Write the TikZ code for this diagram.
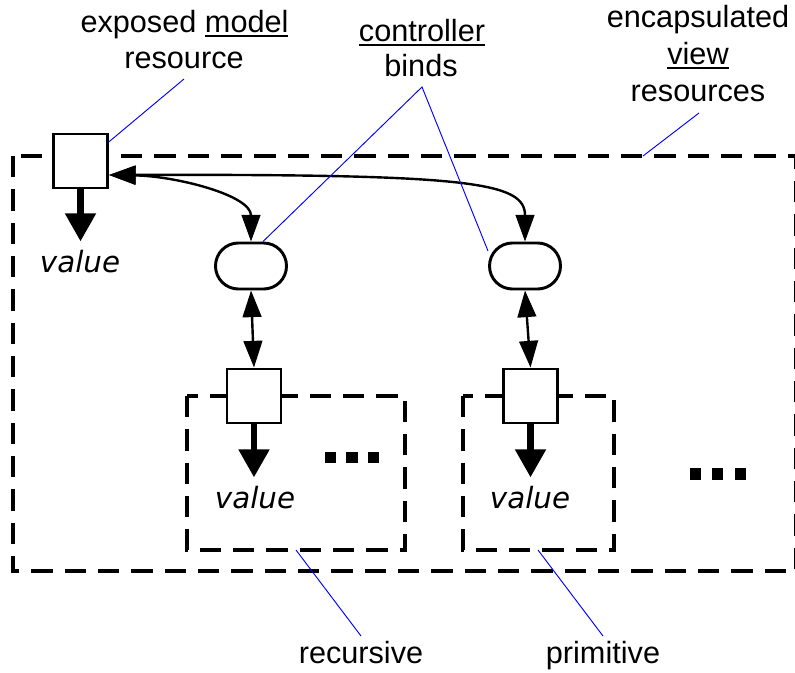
\documentclass[tikz,border=0pt]{standalone}
\usepackage{fontspec}
\setmainfont{Liberation Sans}
\newfontfamily\valfont{DejaVu Sans}
\usetikzlibrary{arrows.meta}
% underlined word with a rule a little below the baseline
\newcommand\ulword[1]{\setbox0\hbox{#1}\rlap{\rule[-2.8pt]{\wd0}{1.4pt}}\box0}
\begin{document}
\begin{tikzpicture}[x=0.75pt,y=-0.75pt,
  box/.style={draw, line width=2.2pt, fill=white, minimum size=40.5pt, inner sep=0pt},
  bind/.style={draw, line width=2.2pt, fill=white, rounded corners=17.2pt,
    minimum width=53.25pt, minimum height=34.5pt, inner sep=0pt},
  link/.style={line width=1.8pt,
    {Triangle[length=20pt,width=14pt]}-{Triangle[length=20pt,width=14pt]}},
  flow/.style={line width=5pt, -{Triangle[length=21pt,width=22pt]}},
  frame/.style={line width=2.4pt, dash pattern=on 16pt off 9pt},
  lead/.style={blue, line width=0.7pt},
  lbl/.style={font=\fontsize{23}{28}\selectfont, anchor=base, inner sep=0pt},
  val/.style={font=\valfont\itshape\fontsize{22}{26}\selectfont, anchor=base, inner sep=0pt},
  dot/.style={fill, minimum size=8.4pt, inner sep=0pt}
]
\useasboundingbox (0,0) rectangle (795,673);

% dashed containers
\draw[frame] (13,156) rectangle (796,571);
\draw[frame] (187,396) rectangle (405,550);
\draw[frame] (463,396) rectangle (614,550);

% resources and binds
\node[box] (model) at (80.5,161) {};
\node[bind] (bindA) at (251,266) {};
\node[bind] (bindB) at (525,266) {};
\node[box] (recA) at (254,396) {};
\node[box] (prim) at (530.5,396) {};

% two-way bindings
\draw[link] ([yshift=-10.5pt]model.east) .. controls (175,176) and (251,195) .. (bindA.north);
\draw[link] ([yshift=-10.5pt]model.east) .. controls (470,174) and (525,182) .. (bindB.north);
\draw[link] (bindA.south) -- (recA.north);
\draw[link] (bindB.south) -- (prim.north);

% values
\draw[flow] (model.south) -- ++(0,52);
\draw[flow] (recA.south) -- ++(0,53);
\draw[flow] (prim.south) -- ++(0,53);
\node[val] (valM) at (80,273) {value};
\node[val] (valR) at (255,508) {value};
\node[val] (valP) at (530,508) {value};

% ellipses
\node[dot] (dA1) at (330.5,457.5) {};
\node[dot] (dA2) at (352,457.5) {};
\node[dot] (dA3) at (373.5,457.5) {};
\node[dot] (dB1) at (695.3,474) {};
\node[dot] (dB2) at (717.8,474) {};
\node[dot] (dB3) at (740.3,474) {};

% labels
\node[lbl] (modelA) at (184.5,33) {exposed \ulword{model}};
\node[lbl] (modelB) at (184,69) {resource};
\node[lbl] (ctrlA) at (422,42) {\ulword{controller}};
\node[lbl] (ctrlB) at (421,77) {binds};
\node[lbl] (encA) at (698,28) {encapsulated};
\node[lbl] (encB) at (698,65) {\ulword{view}};
\node[lbl] (encC) at (698,102) {resources};
\node[lbl] (recL) at (361,663) {recursive};
\node[lbl] (primL) at (603,663) {primitive};

% leader lines
\coordinate (modelTip) at (184,79);
\coordinate (ctrlTip) at (422,87);
\coordinate (encTip) at (699,113);
\coordinate (frameTop) at (643,156);
\coordinate (recTip) at (361,636);
\coordinate (recBox) at (296,550);
\coordinate (primTip) at (603,636);
\coordinate (primBox) at (538,550);
\draw[lead] (model.34) -- (modelTip);
\draw[lead] ([xshift=9pt]bindA.north) -- (ctrlTip) -- (bindB.158);
\draw[lead] (frameTop) -- (encTip);
\draw[lead] (recBox) -- (recTip);
\draw[lead] (primBox) -- (primTip);
\end{tikzpicture}
\end{document}
